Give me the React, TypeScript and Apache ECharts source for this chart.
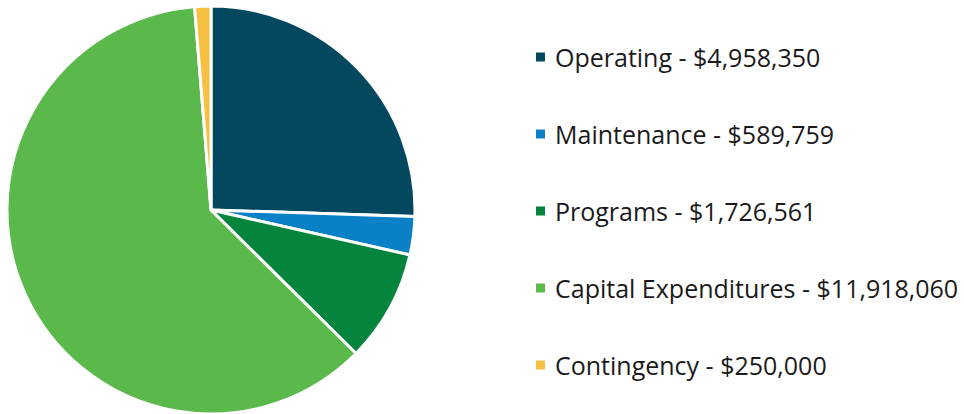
import React, { useEffect, useRef } from "react";
import * as echarts from "echarts";

const categories = ["Operating", "Maintenance", "Programs", "Capital Expenditures", "Contingency"];
const values = [4958350, 589759, 1726561, 11918060, 250000];
const colors = ["#03485F", "#0A80C6", "#05843E", "#5BB94B", "#F6C142"];

const fmt = (v: number) => "$" + v.toLocaleString("en-US");

export default function App() {
  const ref = useRef<HTMLDivElement>(null);
  useEffect(() => {
    document.body.style.margin = "0";
    const chart = echarts.init(ref.current!, null, { renderer: "svg" });
    const data = categories.map((c, i) => ({ name: c, value: values[i], itemStyle: { color: colors[i] } }));
    chart.setOption({
      animation: false,
      legend: {
        orient: "vertical",
        left: 536,
        top: 42,
        padding: 0,
        itemWidth: 9,
        itemHeight: 9,
        itemGap: 47,
        icon: "rect",
        itemStyle: { borderWidth: 0 },
        data: categories,
        formatter: (name: string) => {
          const i = categories.indexOf(name);
          return name + " - " + fmt(values[i]);
        },
        textStyle: {
          fontFamily: "Open Sans",
          fontSize: 25,
          lineHeight: 30,
          color: "#1a1a1a",
          padding: [0, 0, 0, 5],
        },
        selectedMode: false,
      },
      series: [
        {
          type: "pie",
          center: [211, 210],
          radius: 204,
          startAngle: 90,
          clockwise: true,
          label: { show: false },
          labelLine: { show: false },
          itemStyle: { borderColor: "#ffffff", borderWidth: 3 },
          emphasis: { disabled: true },
          data,
        },
      ],
    });
    return () => chart.dispose();
  }, []);
  return <div ref={ref} style={{ width: 964, height: 414 }} />;
}
